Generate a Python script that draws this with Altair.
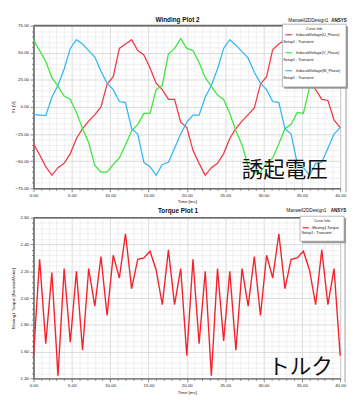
import altair as alt
import pandas as pd

# ---------------- data ----------------
time_ms = [0.0, 0.8, 1.6, 2.4, 3.2, 4.0, 4.8, 5.6, 6.4, 7.2, 8.0, 8.8, 9.6, 10.4,
           11.2, 12.0, 12.8, 13.6, 14.4, 15.2, 16.0, 16.8, 17.6, 18.4, 19.2, 20.0,
           20.8, 21.6, 22.4, 23.2, 24.0, 24.8, 25.6, 26.4, 27.2, 28.0, 28.8, 29.6,
           30.4, 31.2, 32.0, 32.8, 33.6, 34.4, 35.2, 36.0, 36.8, 37.6, 38.4, 39.2, 40.0]

u_phase = [-34, -44, -55, -63, -56, -52, -43, -29, -20, -13, -7, 0, 21, 28, 54, 58, 62,
           52, 48, 36, 22, 16, 7, 7, -14, -19,
           -40, -52, -63, -56, -52, -43, -29, -20, -13, -7, -1, 21, 28, 53, 58, 62,
           51, 48, 36, 22, 16, 7, 6, -12, -19]
v_phase = [62, 52, 42, 27, 19, 10, 7, -5, -20, -33, -54, -60, -60, -53, -47, -35, -22,
           -16, -6, -6, 16, 20, 49, 54, 63, 54,
           52, 41, 27, 19, 11, 7, -6, -22, -35, -55, -61, -60, -52, -47, -34, -20,
           -16, -5, -6, 18, 20, 49, 54, 63, 53]
w_phase = [-7, -7.5, -8, 9, 20, 35, 54, 62, 58, 52, 46, 33, 22, 16, 5, 4, -20, -25,
           -51, -55, -63, -53, -51, -38, -25, -14,
           -7.5, -7.5, 9, 20, 35, 54, 62, 57, 51, 45, 32, 22, 16, 5, 4, -20, -25,
           -52, -56, -63, -52, -51, -38, -25, -19]
torque = [1.57, 2.29, 1.66, 2.19, 1.42, 2.22, 1.67, 2.20, 1.61, 2.22, 1.94, 2.31, 1.87,
          2.32, 2.15, 2.48, 2.07, 2.29, 2.30, 2.35, 2.21, 1.95, 2.36, 1.95, 2.22, 1.57,
          2.29, 1.66, 2.20, 1.42, 2.22, 1.68, 2.20, 1.61, 2.22, 1.94, 2.31, 1.87,
          2.32, 2.15, 2.48, 2.07, 2.29, 2.30, 2.35, 2.21, 1.95, 2.36, 1.95, 2.22, 1.57]

series_names = ["InducedVoltage(U_Phase)", "InducedVoltage(V_Phase)", "InducedVoltage(W_Phase)"]
series_colors = ["#f03a44", "#3fe63f", "#35b8f2"]
torque_name = "Moving1.Torque"

x_ticks = [i for i in range(0, 41)]                       # 1 ms minor ticks
y_ticks_v = [v for v in range(-75, 76, 5)]                # 5 V minor ticks
y_ticks_t = [round(1.40 + 0.04 * i, 2) for i in range(31)]  # 0.04 minor ticks

FONT = "Liberation Sans"
W = 313
H_TOP = 166
H_BOT = 164

# ---------------- helpers ----------------
def cond(test, a, b):
    return {"condition": {"test": test, "value": a}, "value": b}

def x_axis():
    t = "datum.value % 5 === 0"
    return alt.Axis(values=x_ticks, labelExpr=f"{t} ? format(datum.value, '.2f') : ''",
                    labelFont=FONT, labelFontSize=4.5, labelColor="#222", labelPadding=1,
                    labelFlush=False, labelOverlap=False,
                    tickSize=cond(t, 3.5, 2), tickColor="#6a6a6a", tickWidth=0.8,
                    domainColor="#6a6a6a", domainWidth=1.4,
                    gridColor=cond(t, "#d2d2d2", "#ececec"), gridWidth=0.8,
                    title="Time [ms]", titleFont=FONT, titleFontSize=4.5,
                    titleFontWeight="normal", titleColor="#222",
                    titleX=W / 2, titleY=11, titleBaseline="top")

def y_axis(values, test, fmt, title, h):
    return alt.Axis(values=values, labelExpr=f"{test} ? format(datum.value, '{fmt}') : ''",
                    labelFont=FONT, labelFontSize=4.5, labelColor="#222", labelPadding=1.5,
                    labelOverlap=False, labelFlush=False,
                    tickSize=cond(test, 3.5, 2), tickColor="#6a6a6a", tickWidth=0.8,
                    domainColor="#6a6a6a", domainWidth=1.6,
                    gridColor=cond(test, "#d2d2d2", "#ececec"), gridWidth=0.8,
                    title=title, titleFont=FONT, titleFontSize=4.5,
                    titleFontWeight="normal", titleColor="#222",
                    titleX=-20, titleY=h / 2, titleAngle=-90, titleBaseline="middle",
                    titleAlign="center")

one = pd.DataFrame({"k": [0]})

def txt(s, x, y, size=4, align="left", weight="normal", font=FONT, color="#111"):
    return alt.Chart(one).mark_text(text=s, align=align, baseline="middle", fontSize=size,
                                    fontWeight=weight, font=font, color=color).encode(
        x=alt.value(x), y=alt.value(y))

def box(x1, x2, y1, y2, fill, stroke=None, sw=0):
    kw = dict(fill=fill)
    if stroke:
        kw.update(stroke=stroke, strokeWidth=sw)
    return alt.Chart(one).mark_rect(**kw).encode(
        x=alt.value(x1), x2=alt.value(x2), y=alt.value(y1), y2=alt.value(y2))

def seg(x1, x2, y1, y2, color, sw):
    return alt.Chart(one).mark_rule(color=color, strokeWidth=sw).encode(
        x=alt.value(x1), x2=alt.value(x2), y=alt.value(y1), y2=alt.value(y2))

# ---------------- top panel ----------------
df_v = pd.DataFrame({
    "t": time_ms * 3,
    "v": u_phase + v_phase + w_phase,
    "s": [series_names[0]] * len(time_ms) + [series_names[1]] * len(time_ms)
         + [series_names[2]] * len(time_ms),
})

ox, oy = 33, 25  # reference page position of top plot origin (for decorations)
lines_top = alt.Chart(df_v).mark_line(strokeWidth=1.3).encode(
    x=alt.X("t:Q", scale=alt.Scale(domain=[0, 40], nice=False, zero=False), axis=x_axis()),
    y=alt.Y("v:Q", scale=alt.Scale(domain=[-75, 75], nice=False, zero=False),
            axis=y_axis(y_ticks_v, "datum.value % 25 === 0", ".2f", "Y1 [V]", H_TOP)),
    color=alt.Color("s:N", scale=alt.Scale(domain=series_names, range=series_colors), legend=None),
    order="t:Q",
)

top_layers = [
    lines_top,
    seg(0, W, 0, 0, "#6a6a6a", 1.6),
    seg(W + 6, W + 6, 0, H_TOP + 4, "#bdbdbd", 1.5),
    txt("Winding Plot 2", 180 - ox, 19 - oy, size=6.5, align="center", weight="bold"),
    txt("Maxwell2DDesign1", 334 - ox, 20 - oy, size=4.8, align="right"),
    txt("ANSYS", 337 - ox, 20 - oy, size=4.6, weight="bold"),
    box(289 - ox, 354 - ox, 25.5 - oy, 89.5 - oy, "#9c9c9c"),
    box(287 - ox, 352 - ox, 23.5 - oy, 87.5 - oy, "white", "#8a8a8a", 0.6),
    txt("Curve Info", 319.5 - ox, 28.3 - oy, size=3.6, align="center"),
]
entry_y = [34.3, 52.7, 71.0]
for name, col, ey in zip(series_names, series_colors, entry_y):
    top_layers += [
        seg(290 - ox, 297 - ox, ey - oy, ey - oy, col, 1.2),
        txt(name, 301 - ox, ey - oy, size=3.8),
        txt("Setup1 : Transient", 288 - ox, ey + 7.4 - oy, size=3.8),
    ]
top_layers.append(txt("誘起電圧", 289.5 - ox, 172 - oy, size=22,
                      align="center", font="Noto Sans CJK JP", color="#111"))
top = alt.layer(*top_layers).properties(width=W, height=H_TOP)

# ---------------- bottom panel ----------------
df_t = pd.DataFrame({"t": time_ms, "q": torque})
bx, by = 33, 222
lines_bot = alt.Chart(df_t).mark_line(strokeWidth=1.4, color="#f5222d").encode(
    x=alt.X("t:Q", scale=alt.Scale(domain=[0, 40], nice=False, zero=False), axis=x_axis()),
    y=alt.Y("q:Q", scale=alt.Scale(domain=[1.40, 2.60], nice=False, zero=False),
            axis=y_axis(y_ticks_t, "abs(datum.value*5 - round(datum.value*5)) < 0.001",
                        ".2f", "Moving1.Torque [NewtonMeter]", H_BOT)),
    order="t:Q",
)

bot_layers = [
    lines_bot,
    seg(0, W, 0, 0, "#6a6a6a", 1.6),
    seg(W + 5, W + 5, 0, H_BOT + 4, "#bdbdbd", 1.5),
    txt("Torque Plot 1", 180.5 - bx, 215 - by, size=6.5, align="center", weight="bold"),
    txt("Maxwell2DDesign1", 332 - bx, 215 - by, size=4.8, align="right"),
    txt("ANSYS", 336.5 - bx, 215 - by, size=4.6, weight="bold"),
    box(307 - bx, 352 - bx, 222.5 - by, 248 - by, "#9c9c9c"),
    box(305 - bx, 350 - bx, 220.5 - by, 246 - by, "white", "#8a8a8a", 0.6),
    txt("Curve Info", 327.5 - bx, 225.2 - by, size=3.6, align="center"),
    seg(307.5 - bx, 314 - bx, 232.3 - by, 232.3 - by, "#f5222d", 1.2),
    txt(torque_name, 317.5 - bx, 232.3 - by, size=3.8),
    txt("Setup1 : Transient", 306.5 - bx, 237.8 - by, size=3.8),
    txt("トルク", 305.5 - bx, 374.5 - by, size=22, align="center",
        font="Noto Sans CJK JP", color="#111"),
]
bot = alt.layer(*bot_layers).properties(width=W, height=H_BOT)

chart = alt.vconcat(top, bot, spacing=3).properties(
    padding={"left": 2, "top": 4, "right": 0, "bottom": 0},
    background="white",
).configure_view(stroke="#bdbdbd", strokeWidth=1).configure_concat(spacing=3)

chart.save("out.html", embed_options={"renderer": "svg", "actions": False})
